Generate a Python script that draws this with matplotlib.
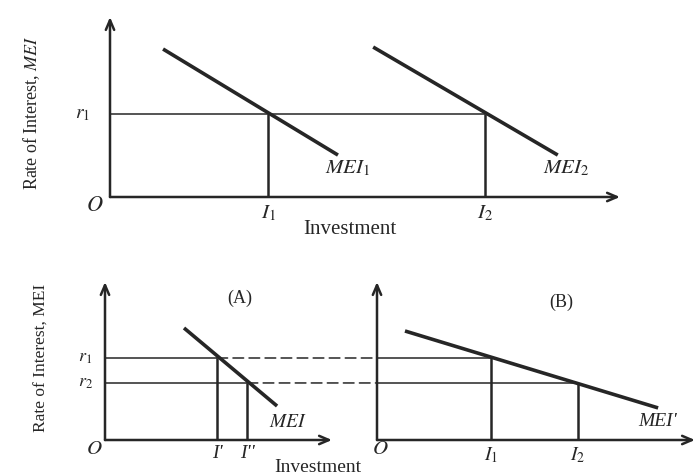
import matplotlib
matplotlib.use("Agg")
import matplotlib.pyplot as plt
from matplotlib.patches import ConnectionPatch

plt.rcParams["font.family"] = ["Liberation Serif", "DejaVu Serif"]
plt.rcParams["mathtext.fontset"] = "stix"

# top diagram: two MEI schedules at one rate of interest
mei1_x = [1.04, 4.47]
mei1_y = [8.22, 2.33]
mei2_x = [5.16, 8.78]
mei2_y = [8.33, 2.33]
top_r1 = 4.61
top_invest = [3.10, 7.35]
top_invest_labels = [r"$I_1$", r"$I_2$"]

# bottom diagram (A): steep MEI, (B): flat MEI'
mei_a_x = [3.48, 7.58]
mei_a_y = [7.09, 2.15]
mei_b_x = [0.88, 8.84]
mei_b_y = [6.90, 2.03]
rates = [5.19, 3.61]
rate_labels = [r"$r_1$", r"$r_2$"]
invest_a = [4.93, 6.26]
invest_a_labels = ["I'", "I''"]
invest_b = [3.58, 6.32]
invest_b_labels = [r"$I_1$", r"$I_2$"]

ink = "#262626"

fig = plt.figure(figsize=(6.96, 4.75), dpi=100)
ax_top = fig.add_axes([110 / 696, 1 - 197 / 475, 510 / 696, 180 / 475])
ax_a = fig.add_axes([105 / 696, 1 - 440 / 475, 227 / 696, 158 / 475])
ax_b = fig.add_axes([377 / 696, 1 - 440 / 475, 318 / 696, 158 / 475])

for ax in (ax_top, ax_a, ax_b):
    ax.set_xlim(0, 10)
    ax.set_ylim(0, 10)
    ax.axis("off")
    # axes drawn as arrows
    ax.annotate("", xy=(1, 0), xytext=(0, 0), xycoords="axes fraction",
                arrowprops=dict(arrowstyle="->,head_length=0.7,head_width=0.3",
                                color=ink, lw=1.8, shrinkA=0, shrinkB=0))
    ax.annotate("", xy=(0, 1), xytext=(0, 0), xycoords="axes fraction",
                arrowprops=dict(arrowstyle="->,head_length=0.7,head_width=0.3",
                                color=ink, lw=1.8, shrinkA=0, shrinkB=0))

# top panel
ax_top.plot(mei1_x, mei1_y, color=ink, lw=2.6, solid_capstyle="butt")
ax_top.plot(mei2_x, mei2_y, color=ink, lw=2.6, solid_capstyle="butt")
ax_top.hlines(top_r1, 0, top_invest[1], color=ink, lw=1.1)
ax_top.vlines(top_invest, 0, top_r1, color=ink, lw=1.8)
ax_top.text(-0.53, top_r1, r"$r_1$", fontsize=14, ha="center", va="center", color=ink)
ax_top.text(-0.3, -0.55, r"$O$", fontsize=16, ha="center", va="center", color=ink)
for x, lab in zip(top_invest, top_invest_labels):
    ax_top.text(x, -0.9, lab, fontsize=15, ha="center", va="center", color=ink)
ax_top.text(4.7, -1.8, "Investment", fontsize=15, ha="center", va="center", color=ink)
ax_top.text(4.65, 1.6, r"$MEI_1$", fontsize=15, ha="center", va="center", color=ink)
ax_top.text(8.95, 1.6, r"$MEI_2$", fontsize=15, ha="center", va="center", color=ink)
fig.text(32 / 696, 1 - 113 / 475, r"Rate of Interest, $\mathit{MEI}$", fontsize=13,
         rotation=90, ha="center", va="center", color=ink)

# bottom panel (A)
ax_a.plot(mei_a_x, mei_a_y, color=ink, lw=2.6, solid_capstyle="butt")
for r, x in zip(rates, invest_a):
    ax_a.hlines(r, 0, x, color=ink, lw=1.1)
ax_a.vlines(invest_a, 0, rates, color=ink, lw=1.8)
for r, lab in zip(rates, rate_labels):
    ax_a.text(-0.88, r, lab, fontsize=13, ha="center", va="center", color=ink)
for x, lab in zip(invest_a, invest_a_labels):
    ax_a.text(x, -0.85, lab, fontsize=14, fontstyle="italic", ha="center",
              va="center", color=ink)
ax_a.text(-0.45, -0.6, r"$O$", fontsize=15, ha="center", va="center", color=ink)
ax_a.text(5.95, 8.95, "(A)", fontsize=13, ha="center", va="center", color=ink)
ax_a.text(8.05, 1.1, r"$MEI$", fontsize=14, ha="center", va="center", color=ink)

# bottom panel (B)
ax_b.plot(mei_b_x, mei_b_y, color=ink, lw=2.6, solid_capstyle="butt")
for r, x in zip(rates, invest_b):
    ax_b.hlines(r, 0, x, color=ink, lw=1.1)
ax_b.vlines(invest_b, 0, rates, color=ink, lw=1.8)
for x, lab in zip(invest_b, invest_b_labels):
    ax_b.text(x, -0.95, lab, fontsize=14, ha="center", va="center", color=ink)
ax_b.text(0.1, -0.6, r"$O$", fontsize=15, ha="center", va="center", color=ink)
ax_b.text(5.8, 8.7, "(B)", fontsize=13, ha="center", va="center", color=ink)
ax_b.text(8.2, 1.15, "MEI'", fontsize=14, fontstyle="italic", ha="left",
          va="center", color=ink)

# dashed links from (A) to (B)
for r, x in zip(rates, invest_a):
    con = ConnectionPatch(xyA=(x, r), coordsA=ax_a.transData,
                          xyB=(0, r), coordsB=ax_b.transData,
                          color=ink, lw=1.1, linestyle=(0, (7, 3.5)))
    fig.add_artist(con)

fig.text(318 / 696, 1 - 468 / 475, "Investment", fontsize=14, ha="center",
         va="center", color=ink)
fig.text(42 / 696, 1 - 358 / 475, "Rate of Interest, MEI", fontsize=12.5,
         rotation=90, ha="center", va="center", color=ink)

plt.savefig("out.png", dpi=100)
